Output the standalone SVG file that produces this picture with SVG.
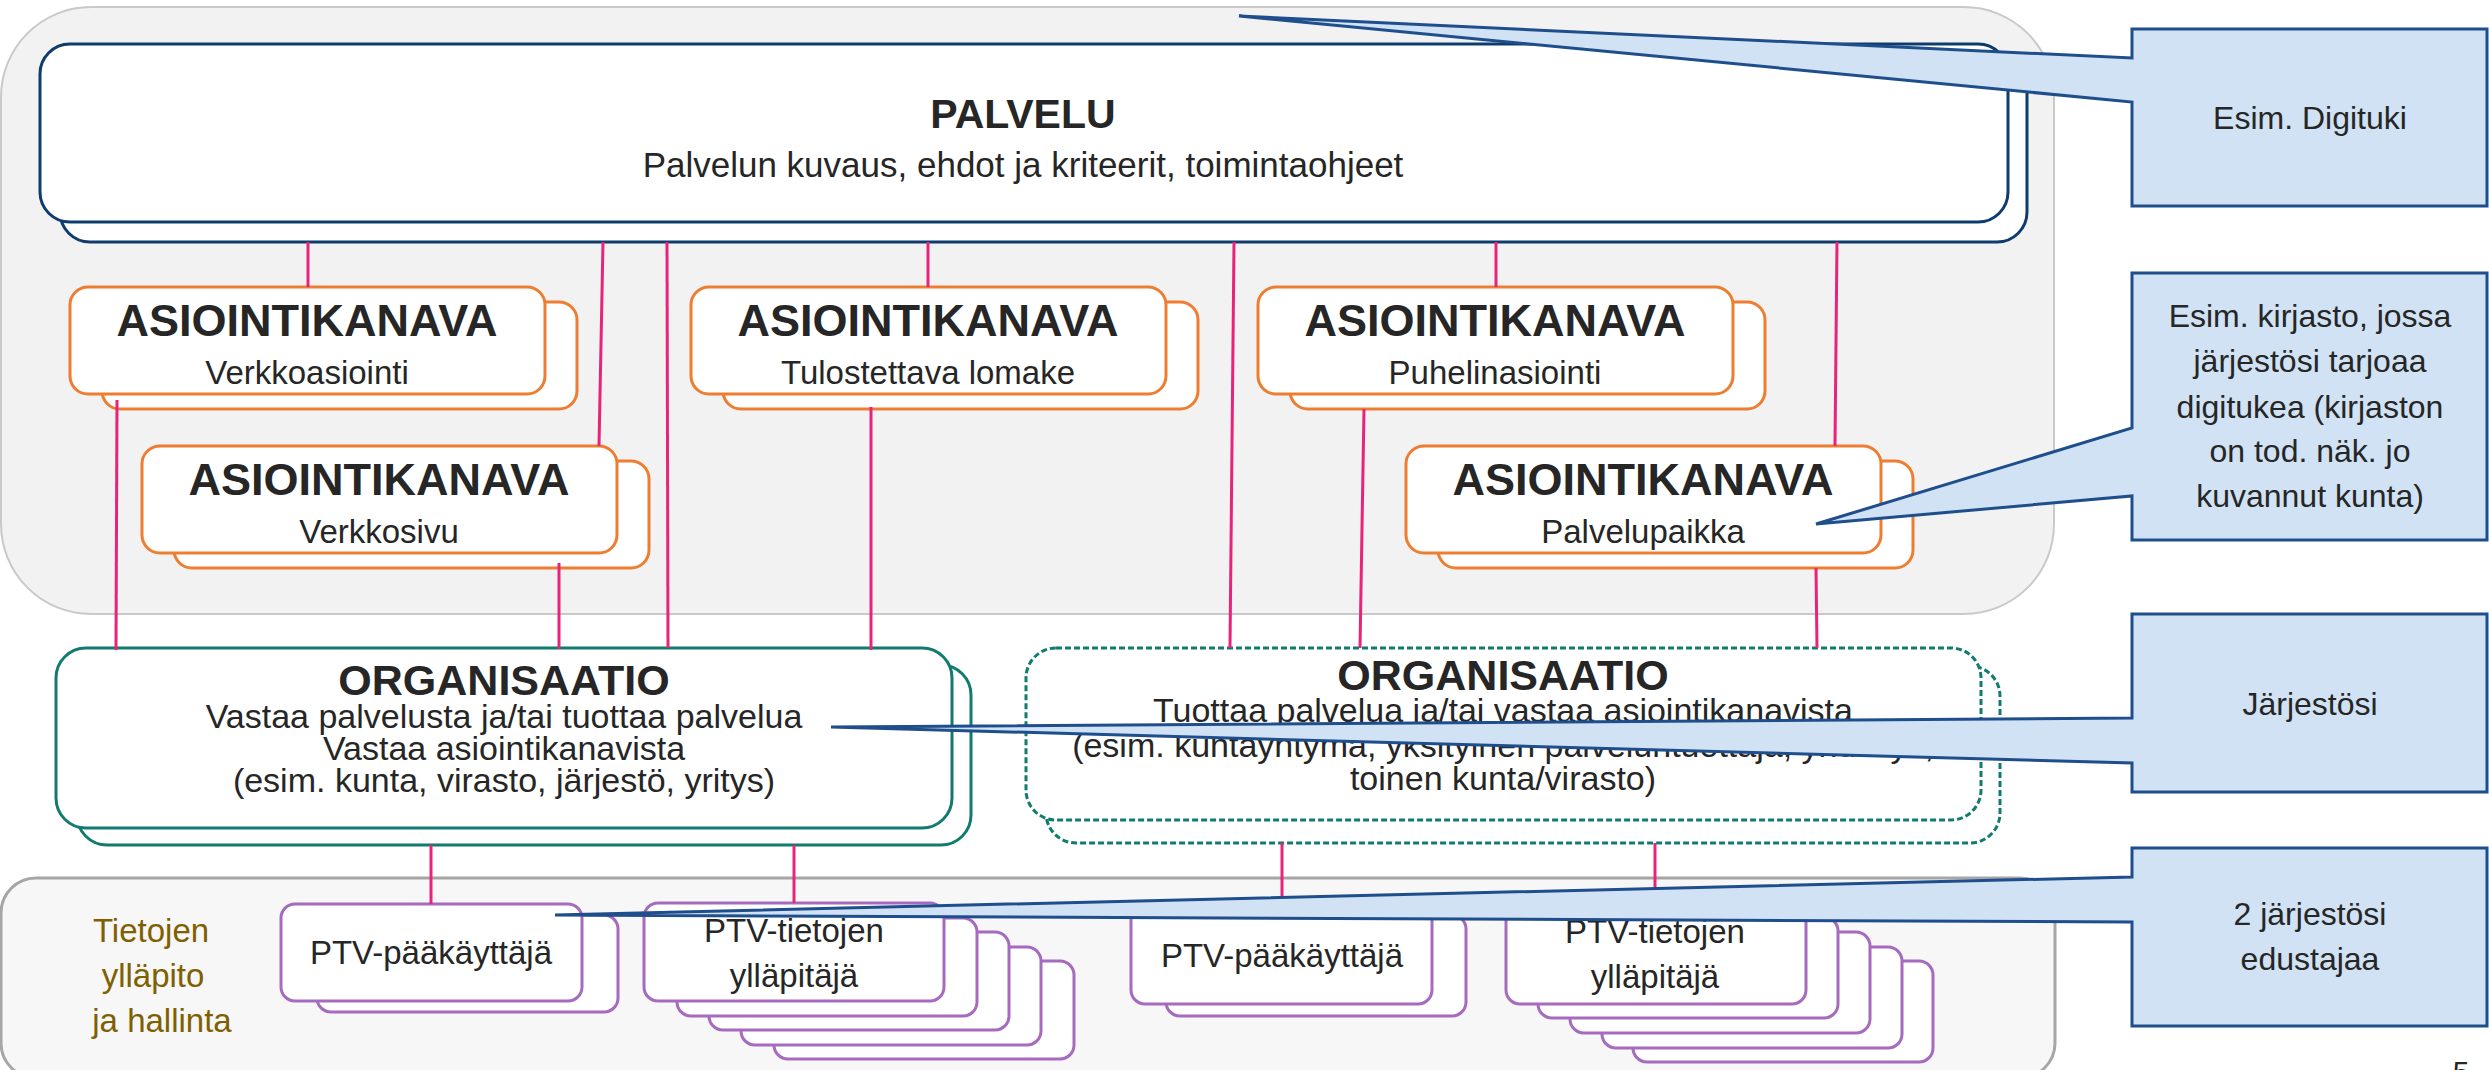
<svg xmlns="http://www.w3.org/2000/svg" width="2489" height="1070" viewBox="0 0 2489 1070">
<style>
text{font-family:'Liberation Sans',Arial,sans-serif;fill:#262626;text-anchor:middle}
.t{font-weight:bold}
.pv{fill:#fff;stroke:#0f3c6e;stroke-width:3}
.ch{fill:#fff;stroke:#ed7d31;stroke-width:3}
.org{fill:#fff;stroke:#127b70;stroke-width:3}
.orgd{fill:#fff;stroke:#127b70;stroke-width:3;stroke-dasharray:6 3}
.ptv{fill:#fff;stroke:#a66bbf;stroke-width:3}
.con line{stroke:#e8247a;stroke-width:3}
.co{fill:#d0e2f3;stroke:#1f4e8c;stroke-width:3;stroke-linejoin:miter}
.lab{fill:#7f6000;font-size:33px}
</style>
<g id="bg-top"><rect x="1" y="7" width="2053" height="607" rx="90" fill="#f2f2f2" stroke="#c9c9c9" stroke-width="2"/></g>
<g id="bg-bottom"><rect x="1" y="878" width="2054" height="200" rx="35" fill="#f7f7f7" stroke="#a6a6a6" stroke-width="3"/>
<text class="lab" x="151" y="942">Tietojen</text>
<text class="lab" x="153" y="987">ylläpito</text>
<text class="lab" x="162" y="1032">ja hallinta</text></g>
<g id="palvelu">
<rect class="pv" x="60" y="63" width="1967" height="179" rx="30"/>
<rect class="pv" x="40" y="44" width="1968" height="178" rx="30"/>
<text class="t" x="1023" y="128" font-size="41">PALVELU</text>
<text x="1023" y="177" font-size="35">Palvelun kuvaus, ehdot ja kriteerit, toimintaohjeet</text>
</g>
<g id="kanava-verkkoasiointi">
<rect class="ch" x="102" y="302" width="475" height="107" rx="18"/>
<rect class="ch" x="70" y="287" width="475" height="107" rx="18"/>
<text class="t" x="307" y="336" font-size="45">ASIOINTIKANAVA</text>
<text x="307" y="384" font-size="33">Verkkoasiointi</text>
</g>
<g id="kanava-verkkosivu">
<rect class="ch" x="174" y="461" width="475" height="107" rx="18"/>
<rect class="ch" x="142" y="446" width="475" height="107" rx="18"/>
<text class="t" x="379" y="495" font-size="45">ASIOINTIKANAVA</text>
<text x="379" y="543" font-size="33">Verkkosivu</text>
</g>
<g id="kanava-lomake">
<rect class="ch" x="723" y="302" width="475" height="107" rx="18"/>
<rect class="ch" x="691" y="287" width="475" height="107" rx="18"/>
<text class="t" x="928" y="336" font-size="45">ASIOINTIKANAVA</text>
<text x="928" y="384" font-size="33">Tulostettava lomake</text>
</g>
<g id="kanava-puhelin">
<rect class="ch" x="1290" y="302" width="475" height="107" rx="18"/>
<rect class="ch" x="1258" y="287" width="475" height="107" rx="18"/>
<text class="t" x="1495" y="336" font-size="45">ASIOINTIKANAVA</text>
<text x="1495" y="384" font-size="33">Puhelinasiointi</text>
</g>
<g id="kanava-palvelupaikka">
<rect class="ch" x="1438" y="461" width="475" height="107" rx="18"/>
<rect class="ch" x="1406" y="446" width="475" height="107" rx="18"/>
<text class="t" x="1643" y="495" font-size="45">ASIOINTIKANAVA</text>
<text x="1643" y="543" font-size="33">Palvelupaikka</text>
</g>
<g id="organisaatio-1">
<rect class="org" x="77" y="665" width="894" height="180" rx="30"/>
<rect class="org" x="56" y="648" width="896" height="180" rx="30"/>
<text class="t" x="504" y="695" font-size="43">ORGANISAATIO</text>
<text x="504" y="728" font-size="34">Vastaa palvelusta ja/tai tuottaa palvelua</text>
<text x="504" y="760" font-size="34">Vastaa asiointikanavista</text>
<text x="504" y="792" font-size="34">(esim. kunta, virasto, järjestö, yritys)</text>
</g>
<g id="organisaatio-2">
<rect class="orgd" x="1046" y="666" width="954" height="177" rx="30"/>
<rect class="orgd" x="1026" y="648" width="955" height="172" rx="30"/>
<text class="t" x="1503" y="690" font-size="43">ORGANISAATIO</text>
<text x="1503" y="722" font-size="34">Tuottaa palvelua ja/tai vastaa asiointikanavista</text>
<text x="1503" y="757" font-size="34">(esim. kuntayhtymä, yksityinen palveluntuottaja, yhdistys,</text>
<text x="1503" y="790" font-size="34">toinen kunta/virasto)</text>
</g>
<g id="ptv-paakayttaja-1">
<rect class="ptv" x="317" y="915" width="301" height="97" rx="14"/>
<rect class="ptv" x="281" y="904" width="301" height="97" rx="14"/>
<text x="431" y="964" font-size="33">PTV-pääkäyttäjä</text>
</g>
<g id="ptv-yllapitaja-1">
<rect class="ptv" x="774" y="961" width="300" height="98" rx="14"/>
<rect class="ptv" x="741" y="947" width="300" height="98" rx="14"/>
<rect class="ptv" x="709" y="932" width="300" height="98" rx="14"/>
<rect class="ptv" x="677" y="918" width="300" height="98" rx="14"/>
<rect class="ptv" x="644" y="903" width="300" height="98" rx="14"/>
<text x="794" y="942" font-size="33">PTV-tietojen</text>
<text x="794" y="987" font-size="33">ylläpitäjä</text>
</g>
<g id="ptv-paakayttaja-2">
<rect class="ptv" x="1166" y="915" width="300" height="101" rx="14"/>
<rect class="ptv" x="1131" y="903" width="301" height="101" rx="14"/>
<text x="1282" y="967" font-size="33">PTV-pääkäyttäjä</text>
</g>
<g id="ptv-yllapitaja-2">
<rect class="ptv" x="1633" y="961" width="300" height="101" rx="14"/>
<rect class="ptv" x="1602" y="947" width="300" height="101" rx="14"/>
<rect class="ptv" x="1570" y="932" width="300" height="101" rx="14"/>
<rect class="ptv" x="1538" y="917" width="300" height="101" rx="14"/>
<rect class="ptv" x="1506" y="903" width="300" height="101" rx="14"/>
<text x="1655" y="943" font-size="33">PTV-tietojen</text>
<text x="1655" y="988" font-size="33">ylläpitäjä</text>
</g>
<g id="connectors" class="con">
<line x1="308" y1="242" x2="308" y2="287"/>
<line x1="603" y1="242" x2="599" y2="446"/>
<line x1="667" y1="242" x2="668" y2="648"/>
<line x1="928" y1="242" x2="928" y2="287"/>
<line x1="1234" y1="242" x2="1230" y2="648"/>
<line x1="1496" y1="242" x2="1496" y2="287"/>
<line x1="1837" y1="242" x2="1835" y2="446"/>
<line x1="117" y1="400" x2="116" y2="650"/>
<line x1="559" y1="563" x2="559" y2="649"/>
<line x1="871" y1="407" x2="871" y2="650"/>
<line x1="1364" y1="409" x2="1360" y2="648"/>
<line x1="1816" y1="568" x2="1817" y2="648"/>
<line x1="431" y1="845" x2="431" y2="904"/>
<line x1="794" y1="845" x2="794" y2="903"/>
<line x1="1282" y1="843" x2="1282" y2="903"/>
<line x1="1655" y1="843" x2="1655" y2="903"/>
</g>
<g id="callout-digituki">
<path class="co" d="M2132,29 H2487 V206 H2132 V102 L1239,16 L2132,58 Z"/>
<text x="2310" y="129" font-size="32">Esim. Digituki</text>
</g>
<g id="callout-kirjasto">
<path class="co" d="M2132,273 H2487 V540 H2132 V496 L1816,524 L2132,428 Z"/>
<text x="2310" y="327" font-size="32">Esim. kirjasto, jossa</text>
<text x="2310" y="372" font-size="32">järjestösi tarjoaa</text>
<text x="2310" y="418" font-size="32">digitukea (kirjaston</text>
<text x="2310" y="462" font-size="32">on tod. näk. jo</text>
<text x="2310" y="507" font-size="32">kuvannut kunta)</text>
</g>
<g id="callout-jarjestosi">
<path class="co" d="M2132,614 H2487 V792 H2132 V763 L831,727 L2132,718 Z"/>
<text x="2310" y="715" font-size="32">Järjestösi</text>
</g>
<g id="callout-edustajat">
<path class="co" d="M2132,848 H2487 V1026 H2132 V922 L555,915 L2132,877 Z"/>
<text x="2310" y="925" font-size="32">2 järjestösi</text>
<text x="2310" y="970" font-size="32">edustajaa</text>
</g>
<text x="2461" y="1082" font-size="30" fill="#1a2a44">5</text>
</svg>
